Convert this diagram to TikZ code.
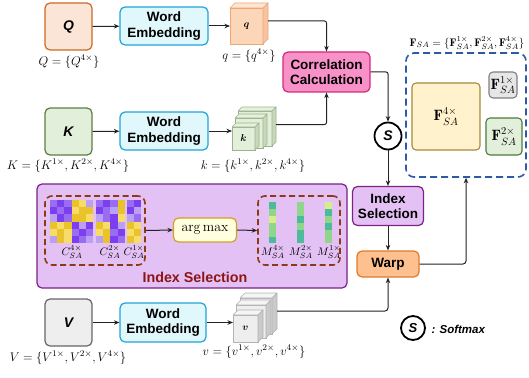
\RequirePackage{fix-cm}
\documentclass[tikz,border=0pt]{standalone}
\usepackage{amsmath}
\usepackage{fontspec}
\newfontfamily\sansb{Liberation Sans}
\usetikzlibrary{arrows.meta,calc}

% palette
\definecolor{qfill}{HTML}{FBE5D6}\definecolor{qdraw}{HTML}{CC6A26}
\definecolor{qfront}{HTML}{FBD6B8}\definecolor{qtop}{HTML}{FDE6D4}
\definecolor{qside}{HTML}{F6C4A0}\definecolor{qedge}{HTML}{EFA673}
\definecolor{kfill}{HTML}{E2EFDA}\definecolor{kdraw}{HTML}{5B7F3F}
\definecolor{vfill}{HTML}{EEEEEE}\definecolor{vdraw}{HTML}{666666}
\definecolor{wefill}{HTML}{E0F7FC}\definecolor{wedraw}{HTML}{1FA5D6}
\definecolor{corrfill}{HTML}{F891C8}\definecolor{corrdraw}{HTML}{D12A7A}
\definecolor{isfill}{HTML}{E4C1F5}\definecolor{isdraw}{HTML}{7D2183}
\definecolor{warpfill}{HTML}{FDC08E}\definecolor{warpdraw}{HTML}{E07B2E}
\definecolor{fsadash}{HTML}{2E59A7}
\definecolor{yfill}{HTML}{FFF2CC}\definecolor{ydraw}{HTML}{A38B3C}
\definecolor{gfill}{HTML}{E6E6E6}\definecolor{gdraw}{HTML}{808080}
\definecolor{grfill}{HTML}{E2EFDA}\definecolor{grdraw}{HTML}{4E7A3A}
\definecolor{brown}{HTML}{8B3A12}
\definecolor{amfill}{HTML}{FFFFE0}\definecolor{amdraw}{HTML}{D4A020}
\definecolor{islabel}{HTML}{8C1616}
\definecolor{line}{HTML}{222222}
% heat map cells
\definecolor{hma}{HTML}{7B3FF0}\definecolor{hmb}{HTML}{9A6CF2}
\definecolor{hmc}{HTML}{B9A0F5}\definecolor{hmy}{HTML}{EAC22A}
\definecolor{hmz}{HTML}{F7DC6A}
% index strips
\definecolor{hmt}{HTML}{4DBB9A}\definecolor{hmg}{HTML}{90D68A}
\definecolor{hml}{HTML}{D8EC8A}

\newcommand\wtext{\sansb\bfseries\fontsize{13.5}{15.5}\selectfont}
\newcommand\lett{\sansb\bfseries\itshape\fontsize{14}{16}\selectfont}
\newcommand\mlab{\fontsize{12.5}{14}\selectfont}

% top and side faces of a box drawn next to a named front face
\newcommand\cubesides[5]{%
  \filldraw[fill=#3,draw=#5,line width=0.6pt,line join=round]
    (#1.north west) -- ++(#2,-#2) -- ($(#1.north east)+(#2,-#2)$) -- (#1.north east) -- cycle;
  \filldraw[fill=#4,draw=#5,line width=0.6pt,line join=round]
    (#1.north east) -- ++(#2,-#2) -- ($(#1.south east)+(#2,-#2)$) -- (#1.south east) -- cycle;}

% heat map: origin x, origin y, rows of cell colours
\newcommand\heat[3]{%
  \foreach \row [count=\r from 0] in {#3}{%
    \foreach \c [count=\k from 0] in \row{%
      \fill[fill=hm\c] (#1+\k*7.2,#2+\r*7.2) rectangle ++(7.2,7.2);}}}

\tikzset{
  inbox/.style={rounded corners=5pt,line width=1.2pt,minimum width=47pt,minimum height=47pt,font=\lett},
  webox/.style={rounded corners=5pt,line width=1.2pt,fill=wefill,draw=wedraw,minimum width=88pt,minimum height=38pt,align=center,font=\wtext},
  opbox/.style={rounded corners=5pt,line width=1.2pt,align=center,font=\wtext},
  mathlab/.style={font=\mlab},
  cubeface/.style={line width=0.6pt,outer sep=0pt,inner sep=0pt},
  fbox/.style={rounded corners=4pt,line width=1.1pt,inner sep=0pt},
  dbrown/.style={draw=brown,line width=1.6pt,dash pattern=on 6pt off 3.5pt,rounded corners=7pt},
  arr/.style={line width=1pt,draw=line,-{Stealth[length=5.5pt,width=4.5pt]}},
  softc/.style={circle,draw=black,line width=1.8pt,inner sep=0pt,font=\sansb\bfseries\itshape\fontsize{14}{16}\selectfont},
}

\begin{document}
\begin{tikzpicture}[x=1pt,y=-1pt]
\useasboundingbox (0,0) rectangle (529,377);

% ---------------- inputs and embeddings ----------------
\node[inbox,fill=qfill,draw=qdraw] (Q) at (68.5,26.5) {Q};
\node[inbox,fill=kfill,draw=kdraw] (K) at (68.5,131.5) {K};
\node[inbox,fill=vfill,draw=vdraw] (V) at (68.5,322.5) {V};
\node[mathlab] (Qlab) at (69,62) {$Q=\{Q^{4\times}\}$};
\node[mathlab] (Klab) at (68,166) {$K=\{K^{1\times},K^{2\times},K^{4\times}\}$};
\node[mathlab] (Vlab) at (68,358) {$V=\{V^{1\times},V^{2\times},V^{4\times}\}$};

\node[webox] (WE1) at (164,26) {Word\\Embedding};
\node[webox] (WE2) at (164,131) {Word\\Embedding};
\node[webox,minimum width=86pt,minimum height=39pt] (WE3) at (163,322.5) {Word\\Embedding};

% q features
\node[cubeface,fill=qfront,draw=qedge,minimum width=33pt,minimum height=36pt] (qc) at (246.5,26) {$\boldsymbol{q}$};
\cubesides{qc}{5}{qtop}{qside}{qedge}
\node[mathlab] (qlab) at (249,56) {$q=\{q^{4\times}\}$};

% k features
\node[cubeface,fill=kfill,draw=kdraw!60,minimum width=34pt,minimum height=35pt] (kc3) at (255,128.5) {};
\cubesides{kc3}{4}{kfill!90!white}{kfill!80!kdraw}{kdraw!60}
\node[cubeface,fill=kfill,draw=kdraw!60,minimum width=28pt,minimum height=30pt] (kc2) at (249,133) {};
\cubesides{kc2}{4}{kfill!90!white}{kfill!80!kdraw}{kdraw!60}
\node[cubeface,fill=kfill,draw=kdraw!60,minimum width=23pt,minimum height=23pt] (kc1) at (243.5,138.5) {$\boldsymbol{k}$};
\cubesides{kc1}{4}{kfill!90!white}{kfill!80!kdraw}{kdraw!60}
\node[mathlab] (klab) at (253,166) {$k=\{k^{1\times},k^{2\times},k^{4\times}\}$};

% v features
\node[cubeface,fill=vfill,draw=vdraw!50,minimum width=32pt,minimum height=36pt] (vc3) at (256,316) {};
\cubesides{vc3}{5}{vfill!60!white}{vfill!85!black}{vdraw!50}
\node[cubeface,fill=vfill,draw=vdraw!50,minimum width=30pt,minimum height=33pt] (vc2) at (251,321.5) {};
\cubesides{vc2}{5}{vfill!60!white}{vfill!85!black}{vdraw!50}
\node[cubeface,fill=vfill,draw=vdraw!50,minimum width=25pt,minimum height=27pt] (vc1) at (245.5,328.5) {$\boldsymbol{v}$};
\cubesides{vc1}{5}{vfill!60!white}{vfill!85!black}{vdraw!50}
\node[mathlab] (vlab) at (254,352) {$v=\{v^{1\times},v^{2\times},v^{4\times}\}$};

\draw[arr] (Q) -- (WE1);
\draw[arr] (K) -- (WE2);
\draw[arr] (V) -- (WE3);
\draw[arr] (WE1) -- (qc);
\draw[arr] (WE2.east) -- (WE2.east -| kc1.west);
\draw[arr] (WE3.east) -- (WE3.east -| vc1.west);

% ---------------- correlation and softmax ----------------
\node[opbox,fill=corrfill,draw=corrdraw,minimum width=87pt,minimum height=40pt] (corr) at (326.5,72) {Correlation\\Calculation};
\coordinate (qout) at ($(qc.east)+(5,-5)$);
\coordinate (kout) at ($(kc3.east)+(4,-4)$);
\draw[arr,rounded corners=2pt] (qout) -| (corr.north);
\draw[arr,rounded corners=2pt] (kout) -| (corr.south);

\node[softc,minimum size=27pt] (S) at (388,136) {S};
\draw[arr,rounded corners=2pt] (corr.east) -| (S.north);

\node[opbox,fill=isfill,draw=isdraw,minimum width=71pt,minimum height=39pt] (isel) at (388,206) {Index\\Selection};
\node[opbox,fill=warpfill,draw=warpdraw,minimum width=62pt,minimum height=26pt] (warp) at (388,264) {Warp};
\draw[arr] (S.south) -- (isel.north);
\draw[arr] (isel.south) -- (warp.north);
\coordinate (vout) at ($(vc3.east)+(5,-5)$);
\draw[arr,rounded corners=3pt] (vout) -| (warp.south);

% ---------------- output features ----------------
\node[draw=fsadash,line width=1.6pt,dash pattern=on 7pt off 4pt,rounded corners=8pt,minimum width=120pt,minimum height=124pt] (fsa) at (466,115) {};
\node[font=\fontsize{11}{13}\selectfont] (fsalab) at (467,43) {$\mathbf{F}_{SA}=\{\mathbf{F}^{1\times}_{SA},\mathbf{F}^{2\times}_{SA},\mathbf{F}^{4\times}_{SA}\}$};
\node[fbox,fill=yfill,draw=ydraw,minimum width=68pt,minimum height=67pt,font=\fontsize{15}{17}\selectfont] (f4) at (446,116.5) {$\mathbf{F}^{4\times}_{SA}$};
\node[fbox,fill=gfill,draw=gdraw,minimum width=28pt,minimum height=26pt,font=\fontsize{15}{17}\selectfont] (f1) at (503,85) {$\mathbf{F}^{1\times}_{SA}$};
\node[fbox,fill=grfill,draw=grdraw,minimum width=36pt,minimum height=37pt,font=\fontsize{15}{17}\selectfont] (f2) at (504,136.5) {$\mathbf{F}^{2\times}_{SA}$};
\draw[arr,rounded corners=3pt] (warp.east) -| (fsa.south);

% ---------------- index selection detail ----------------
\node[fill=isfill,draw=isdraw,line width=1.2pt,rounded corners=5pt,minimum width=310pt,minimum height=104pt] (panel) at (192,236) {};
\node[font=\sansb\bfseries\fontsize{14.3}{16}\selectfont,text=islabel] (panlab) at (195,277) {Index Selection};

\heat{50}{200}{{b,a,b,y,z,c},{a,b,a,z,y,y},{c,a,b,y,y,z},{y,z,y,a,c,a},{z,y,z,b,a,b},{c,y,z,a,b,c}}
\heat{96}{200}{{b,a,b,y},{a,b,c,y},{c,b,a,z},{y,z,a,c},{z,y,b,a},{c,y,a,b}}
\heat{126.6}{200}{{b,a},{a,c},{c,b},{y,z},{z,y},{y,z}}
\node[font=\fontsize{11}{13}\selectfont,inner sep=0pt] (c4) at (72,252) {$C^{4\times}_{SA}$};
\node[font=\fontsize{11}{13}\selectfont,inner sep=0pt] (c2) at (110,252) {$C^{2\times}_{SA}$};
\node[font=\fontsize{11}{13}\selectfont,inner sep=0pt] (c1) at (134,252) {$C^{1\times}_{SA}$};
\node[dbrown,minimum width=100pt,minimum height=69pt] (cbox) at (95,230.5) {};

\node[opbox,fill=amfill,draw=amdraw,minimum width=63pt,minimum height=24pt,font=\rmfamily\fontsize{14}{16}\selectfont] (amax) at (205,230) {arg\,max};

\foreach \x/\cols in {269/{t,g,l,g,g,t},297/{g,g,t,g,t,t},325/{l,t,g,t,g,g}}{%
  \foreach \c [count=\r from 0] in \cols{%
    \fill[fill=hm\c] (\x,202+\r*6.9) rectangle ++(7,6.9);}}
\node[font=\fontsize{11}{13}\selectfont,inner sep=0pt] (m4) at (273,252) {$M^{4\times}_{SA}$};
\node[font=\fontsize{11}{13}\selectfont,inner sep=0pt] (m2) at (301,252) {$M^{2\times}_{SA}$};
\node[font=\fontsize{11}{13}\selectfont,inner sep=0pt] (m1) at (329,252) {$M^{1\times}_{SA}$};
\node[dbrown,minimum width=82pt,minimum height=69pt] (mbox) at (299,230.5) {};

\draw[arr] (cbox.east) -- (amax.west);
\draw[arr] (amax.east) -- (mbox.west);

% ---------------- legend ----------------
\node[softc,minimum size=24pt,font=\sansb\bfseries\itshape\fontsize{13}{15}\selectfont] (Sleg) at (413,328) {S};
\node[anchor=west,font=\sansb\bfseries\itshape\fontsize{11.5}{13}\selectfont] (leg) at (428,329) {: Softmax};
\end{tikzpicture}
\end{document}
